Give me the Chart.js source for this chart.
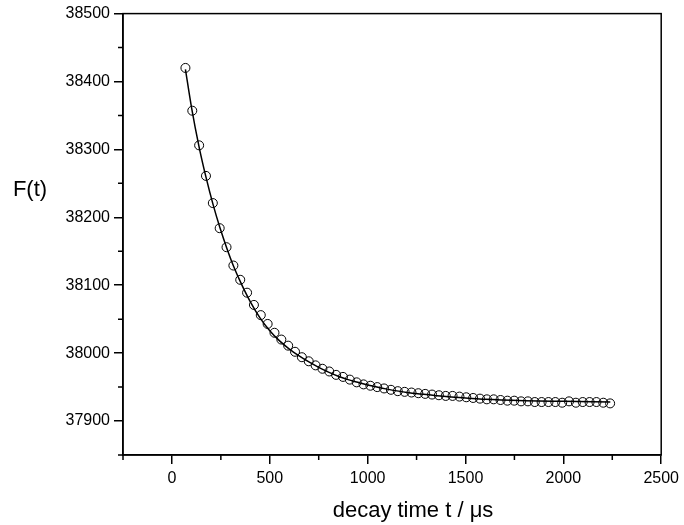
<!DOCTYPE html>
<html>
<head>
<meta charset="utf-8">
<script src="https://cdn.jsdelivr.net/npm/chart.js@4/dist/chart.umd.min.js"></script>
<style>
  body { margin: 0; background: #fff; }
  canvas { display: block; }
</style>
</head>
<body>
<canvas id="decay_chart" width="684" height="525"></canvas>
<script>
// measured points (decay time in us, F(t))
const times = [69,104,139,174,209,244,279,314,349,384,419,454,489,524,559,594,629,664,699,734,769,804,839,874,909,944,979,1014,1049,1084,1119,1154,1189,1224,1259,1294,1329,1364,1399,1434,1469,1504,1539,1574,1609,1644,1679,1714,1749,1784,1819,1854,1889,1924,1959,1994,2029,2064,2099,2134,2169,2204,2239];
const values = [38420,38357,38306,38261,38221,38184,38156,38129,38108,38089,38071,38056,38043,38030,38020,38011,38002,37994,37988,37982,37977,37973,37968,37965,37961,37957,37954,37952,37950,37948,37946,37944,37943,37942,37941,37940,37939,37938,37937,37937,37936,37935,37934,37933,37932,37932,37931,37930,37930,37929,37929,37928,37928,37928,37928,37927,37929,37927,37928,37928,37928,37927,37926];

// fitted curve
const fitTimes = [69,100,140,175,210,245,280,315,350,400,450,500,550,600,650,700,750,800,850,900,950,1000,1100,1200,1300,1400,1500,1600,1800,2000,2240];
const fitValues = [38418,38362,38302,38258,38219,38185,38155,38128,38105,38076,38052,38033,38018,38006,37996,37987,37979,37972,37966,37961,37957,37953,37947,37942,37939,37936,37934,37932,37930,37929,37928];

// axis ticks
const xTicks = [0,500,1000,1500,2000,2500];
const xMinor = [-250,250,750,1250,1750,2250];
const yTicks = [37900,38000,38100,38200,38300,38400,38500];
const yMinor = [37850,37950,38050,38150,38250,38350,38450];

const FONT = "'Liberation Sans', Arial, sans-serif";

// box, minor ticks and axis titles
const frame = {
  id: 'frame',
  afterDraw(chart) {
    const ctx = chart.ctx;
    const a = chart.chartArea;
    const xs = chart.scales.x, ys = chart.scales.y;
    ctx.save();
    ctx.strokeStyle = '#000';
    ctx.lineWidth = 1.5;
    ctx.strokeRect(a.left, a.top, a.right - a.left, a.bottom - a.top);
    ctx.beginPath();
    xMinor.forEach(v => {
      const px = xs.getPixelForValue(v);
      ctx.moveTo(px, a.bottom);
      ctx.lineTo(px, a.bottom + 5);
    });
    yMinor.forEach(v => {
      const py = ys.getPixelForValue(v);
      ctx.moveTo(a.left, py);
      ctx.lineTo(a.left - 5, py);
    });
    ctx.stroke();
    ctx.fillStyle = '#000';
    ctx.font = '22px ' + FONT;
    ctx.textAlign = 'center';
    ctx.textBaseline = 'middle';
    ctx.fillText('decay time t / \u03bcs', 413, 511);
    ctx.fillText('F(t)', 30, 190);
    ctx.restore();
  }
};

function decay_draw() {
  let context = document.querySelector('#decay_chart').getContext('2d');
  new Chart(context, {
    type: 'scatter',
    data: {
      datasets: [{
        label: 'fit',
        data: fitTimes.map((t, i) => ({x: t, y: fitValues[i]})),
        showLine: true,
        borderColor: '#000',
        borderWidth: 1.5,
        pointRadius: 0,
        cubicInterpolationMode: 'monotone'
      }, {
        label: 'F(t)',
        data: times.map((t, i) => ({x: t, y: values[i]})),
        showLine: false,
        pointStyle: 'circle',
        pointRadius: 4.5,
        borderWidth: 1,
        borderColor: '#000',
        backgroundColor: 'rgba(0,0,0,0)'
      }]
    },
    options: {
      responsive: false,
      animation: false,
      devicePixelRatio: 1,
      layout: { padding: { left: 0, top: 13, right: 20, bottom: 0 } },
      plugins: { legend: { display: false }, tooltip: { enabled: false } },
      scales: {
        x: {
          type: 'linear',
          min: -250,
          max: 2500,
          afterBuildTicks: s => { s.ticks = xTicks.map(v => ({value: v})); },
          afterFit: s => { s.height = 70; },
          grid: { drawOnChartArea: false, tickLength: 9, color: '#000', lineWidth: 1.5 },
          border: { display: true, color: '#000', width: 1.5 },
          ticks: { color: '#000', padding: 5, maxRotation: 0, font: { family: FONT, size: 16 },
                   callback: v => String(v) }
        },
        y: {
          type: 'linear',
          min: 37850,
          max: 38500,
          afterBuildTicks: s => { s.ticks = yTicks.map(v => ({value: v})); },
          afterFit: s => { s.width = 123; },
          grid: { drawOnChartArea: false, tickLength: 9, color: '#000', lineWidth: 1.5 },
          border: { display: true, color: '#000', width: 1.5 },
          ticks: { color: '#000', padding: 4, font: { family: FONT, size: 16 },
                   callback: v => String(v) }
        }
      }
    },
    plugins: [frame]
  });
}

window.onload = function () {
  decay_draw();
};
</script>
</body>
</html>
